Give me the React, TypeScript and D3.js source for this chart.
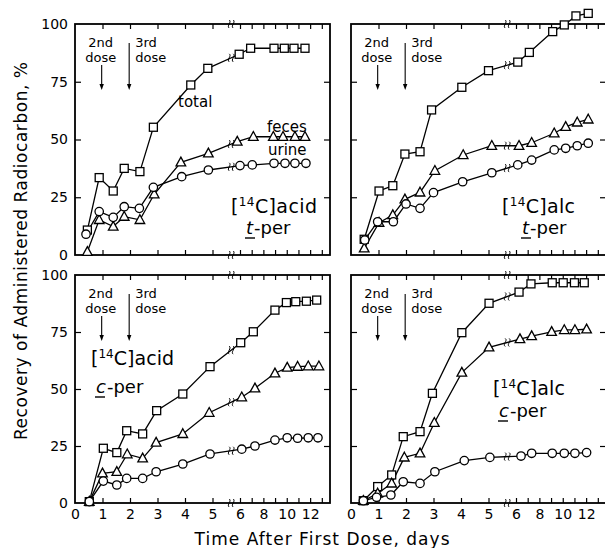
import React, { useEffect, useRef } from "react";
import * as d3 from "d3";

// x axis: linear 0-6 days, compressed after the break
const dayDomain = [0, 6, 13.7];
const breakDay = 5.68;
const xTickDays = [1, 2, 3, 4, 5, 6, 7, 8, 9, 10, 11, 12, 13];
const xTickLabels = [0, 1, 2, 3, 4, 5, 6, 8, 10, 12];
const yTickLabels = [0, 25, 50, 75, 100];
const doseDays = [0.97, 1.97];

// [14C]acid, t-per
const acidTTotalDays = [0.45, 0.88, 1.39, 1.79, 2.36, 2.85, 4.21, 4.83, 5.97, 6.91, 8.91, 9.79, 10.62, 11.56];
const acidTTotal = [10.8, 33.5, 27.7, 37.5, 36.1, 55.3, 73.6, 80.8, 86.9, 89.5, 89.5, 89.5, 89.5, 89.5];
const acidTFecesDays = [0.45, 0.88, 1.39, 1.79, 2.36, 2.88, 3.85, 4.85, 5.9, 7.14, 8.85, 9.68, 10.7, 11.56];
const acidTFeces = [1.4, 15.2, 12.3, 16.6, 15.2, 26.3, 40.1, 44.0, 49.1, 51.2, 51.2, 51.2, 51.2, 51.2];
const acidTUrineDays = [0.4, 0.88, 1.39, 1.79, 2.34, 2.85, 3.88, 4.85, 6.0, 7.05, 8.91, 9.85, 10.7, 11.64];
const acidTUrine = [9.0, 18.8, 16.3, 20.9, 20.2, 29.3, 33.9, 36.8, 38.7, 39.0, 39.7, 39.7, 39.7, 39.7];

// [14C]alc, t-per
const alcTTotalDays = [0.48, 1.02, 1.52, 1.96, 2.51, 2.93, 4.03, 5.0, 6.15, 7.14, 9.14, 10.13, 11.13, 12.18];
const alcTTotal = [6.8, 27.7, 30.0, 43.7, 44.7, 62.8, 72.6, 79.8, 83.5, 87.7, 96.7, 99.6, 103.5, 104.6];
const alcTFecesDays = [0.48, 1.02, 1.52, 1.96, 2.51, 3.05, 4.08, 5.12, 6.26, 7.34, 9.27, 10.25, 11.24, 12.18];
const alcTFeces = [2.9, 14.0, 17.3, 24.1, 27.1, 36.5, 43.3, 47.3, 47.3, 48.6, 52.7, 55.5, 57.4, 58.7];
const alcTUrineDays = [0.5, 0.97, 1.54, 2.0, 2.51, 3.0, 4.06, 5.12, 6.15, 7.34, 9.27, 10.25, 11.24, 12.18];
const alcTUrine = [6.5, 14.4, 14.4, 22.1, 20.2, 27.0, 31.7, 35.6, 39.0, 41.1, 45.5, 46.2, 47.3, 48.4];

// [14C]acid, c-per
const acidCTotalDays = [0.52, 1.03, 1.52, 1.88, 2.46, 2.97, 3.92, 4.91, 6.06, 7.14, 8.99, 9.97, 10.77, 11.68, 12.56];
const acidCTotal = [0.6, 24.0, 22.1, 31.7, 30.3, 40.5, 47.8, 59.8, 70.3, 75.1, 84.6, 87.9, 88.3, 88.5, 89.0];
const acidCFecesDays = [0.52, 1.0, 1.52, 1.9, 2.46, 2.95, 3.92, 4.88, 6.15, 7.28, 8.99, 10.04, 10.93, 11.84, 12.75];
const acidCFeces = [0.6, 13.0, 13.7, 21.4, 19.6, 26.5, 30.3, 39.6, 46.4, 50.3, 56.9, 59.4, 59.8, 60.0, 60.0];
const acidCUrineDays = [0.52, 1.03, 1.52, 1.88, 2.46, 2.95, 3.92, 4.91, 6.15, 7.28, 8.99, 10.04, 10.93, 11.84, 12.67];
const acidCUrine = [0.6, 9.6, 7.9, 10.8, 10.8, 13.7, 17.1, 21.5, 23.6, 25.0, 27.6, 28.6, 28.4, 28.6, 28.6];

// [14C]alc, c-per
const alcCTotalDays = [0.45, 0.97, 1.48, 1.9, 2.51, 2.96, 4.03, 5.02, 6.26, 7.28, 9.1, 10.04, 11.0, 11.84];
const alcCTotal = [1.0, 7.2, 12.3, 29.1, 31.3, 48.1, 74.7, 87.6, 92.5, 96.1, 96.6, 96.6, 96.6, 96.6];
const alcCFecesDays = [0.45, 0.97, 1.48, 1.94, 2.51, 3.03, 4.03, 5.02, 6.34, 7.34, 9.05, 10.13, 11.04, 12.04];
const alcCFeces = [1.0, 4.2, 8.6, 20.0, 21.8, 35.2, 57.2, 68.3, 71.9, 73.2, 75.1, 75.9, 75.9, 76.2];
const alcCUrineDays = [0.45, 0.93, 1.45, 1.9, 2.51, 3.05, 4.12, 5.05, 6.43, 7.34, 9.1, 10.13, 11.04, 12.04];
const alcCUrine = [1.0, 2.5, 3.5, 9.3, 8.6, 13.7, 18.6, 20.0, 20.6, 21.8, 21.8, 21.8, 21.8, 22.1];

const W = 605;
const H = 548;
const FONT = "DejaVu Sans";

const panels = [
  {
    left: 75, top: 24, h: 231, yLabels: true, xLabels: false,
    compound: "acid", isomer: "t",
    cx: 231, cy: 213, cLen: 86, ix: 246, iy: 234,
    series: [
      { days: acidTTotalDays, vals: acidTTotal, shape: "square" },
      { days: acidTFecesDays, vals: acidTFeces, shape: "triangle" },
      { days: acidTUrineDays, vals: acidTUrine, shape: "circle" },
    ],
  },
  {
    left: 351, top: 24, h: 231, yLabels: false, xLabels: false,
    compound: "alc", isomer: "t",
    cx: 502, cy: 213, cLen: 73, ix: 522, iy: 234,
    series: [
      { days: alcTTotalDays, vals: alcTTotal, shape: "square" },
      { days: alcTFecesDays, vals: alcTFeces, shape: "triangle" },
      { days: alcTUrineDays, vals: alcTUrine, shape: "circle" },
    ],
  },
  {
    left: 75, top: 275, h: 228, yLabels: true, xLabels: true,
    compound: "acid", isomer: "c",
    cx: 91, cy: 365, cLen: 83, ix: 96, iy: 393,
    series: [
      { days: acidCTotalDays, vals: acidCTotal, shape: "square" },
      { days: acidCFecesDays, vals: acidCFeces, shape: "triangle" },
      { days: acidCUrineDays, vals: acidCUrine, shape: "circle" },
    ],
  },
  {
    left: 351, top: 275, h: 228, yLabels: false, xLabels: true,
    compound: "alc", isomer: "c",
    cx: 493, cy: 395, cLen: 72, ix: 499, iy: 417,
    series: [
      { days: alcCTotalDays, vals: alcCTotal, shape: "square" },
      { days: alcCFecesDays, vals: alcCFeces, shape: "triangle" },
      { days: alcCUrineDays, vals: alcCUrine, shape: "circle" },
    ],
  },
];

// little "≈" break mark
function squiggle(x: number, y: number) {
  return [-2, 2]
    .map((o) => `M${x + o},${y - 4} C${x + o + 3},${y - 2} ${x + o - 3},${y + 2} ${x + o},${y + 4}`)
    .join(" ");
}

export default function App() {
  const svgRef = useRef<SVGSVGElement>(null);

  useEffect(() => {
    const svg = d3.select(svgRef.current);
    svg.selectAll("*").remove();
    svg.append("rect").attr("width", W).attr("height", H).attr("fill", "white");

    const panelW = 255;
    const x = d3.scaleLinear().domain(dayDomain).range([0, 165, panelW]);

    panels.forEach((p) => {
      const y = d3.scaleLinear().domain([0, 100]).range([p.h, 0]);
      const g = svg.append("g").attr("transform", `translate(${p.left},${p.top})`);

      // inward ticks on all four sides
      const tickStyle = (sel: any) => {
        sel.select(".domain").remove();
        sel.selectAll("line").attr("stroke", "#000").attr("stroke-width", 1.2);
      };
      g.append("g").attr("transform", `translate(0,${p.h})`)
        .call(d3.axisBottom(x).tickValues(xTickDays).tickSize(-5).tickFormat(() => ""))
        .call(tickStyle);
      g.append("g")
        .call(d3.axisTop(x).tickValues(xTickDays).tickSize(-5).tickFormat(() => ""))
        .call(tickStyle);
      g.append("g")
        .call(d3.axisLeft(y).tickValues([25, 50, 75]).tickSize(-6).tickFormat(() => ""))
        .call(tickStyle);
      g.append("g").attr("transform", `translate(${panelW},0)`)
        .call(d3.axisRight(y).tickValues([25, 50, 75]).tickSize(-6).tickFormat(() => ""))
        .call(tickStyle);

      // frame
      g.append("rect").attr("width", panelW).attr("height", p.h)
        .attr("fill", "none").attr("stroke", "#000").attr("stroke-width", 1.8);
      [0, p.h].forEach((yy) => {
        g.append("path").attr("d", squiggle(x(breakDay), yy))
          .attr("fill", "none").attr("stroke", "#000").attr("stroke-width", 1);
      });

      // tick labels
      if (p.xLabels) {
        const ax = g.append("g").attr("transform", `translate(0,${p.h})`)
          .call(d3.axisBottom(x).tickValues(xTickLabels).tickSize(0).tickPadding(6).tickFormat(d3.format("d")));
        ax.select(".domain").remove();
        ax.selectAll("text").attr("font-family", FONT).attr("font-size", 14).attr("fill", "#000");
      }
      if (p.yLabels) {
        const ay = g.append("g")
          .call(d3.axisLeft(y).tickValues(yTickLabels).tickSize(0).tickPadding(7).tickFormat(d3.format("d")));
        ay.select(".domain").remove();
        ay.selectAll("text").attr("font-family", FONT).attr("font-size", 14).attr("fill", "#000");
      }

      // dose arrows
      doseDays.forEach((dd, i) => {
        const ax = x(dd);
        const y0 = i === 0 ? 41 : 19;
        g.append("line").attr("x1", ax).attr("x2", ax).attr("y1", y0).attr("y2", 62)
          .attr("stroke", "#000").attr("stroke-width", 1.1);
        g.append("path").attr("d", `M${ax - 2.2},${60} L${ax + 2.2},${60} L${ax},${66} Z`).attr("fill", "#000");
        const t = g.append("text").attr("font-family", FONT).attr("font-size", 13).attr("fill", "#000")
          .attr("text-anchor", i === 0 ? "middle" : "start");
        const tx = i === 0 ? ax - 1 : ax + 6;
        t.append("tspan").attr("x", tx).attr("y", 23).text(i === 0 ? "2nd" : "3rd");
        t.append("tspan").attr("x", tx).attr("y", 38).text("dose");
      });

      // lines
      const line = d3.line<[number, number]>().x((d) => x(d[0])).y((d) => y(d[1]));
      p.series.forEach((s) => {
        const pts = s.days.map((d, i) => [d, s.vals[i]] as [number, number]);
        g.append("path").attr("d", line(pts)).attr("fill", "none")
          .attr("stroke", "#000").attr("stroke-width", 1.3);
        // break mark on the line
        const i = pts.findIndex((d, k) => k < pts.length - 1 && d[0] < breakDay && pts[k + 1][0] >= breakDay);
        if (i >= 0) {
          const a = pts[i], b = pts[i + 1];
          const bx = x(breakDay);
          const t = (bx - x(a[0])) / (x(b[0]) - x(a[0]));
          const by = y(a[1]) + t * (y(b[1]) - y(a[1]));
          g.append("path").attr("d", squiggle(bx, by)).attr("fill", "none")
            .attr("stroke", "#000").attr("stroke-width", 1);
        }
      });

      // markers
      p.series.forEach((s) => {
        s.days.forEach((d, i) => {
          const cx = x(d), cy = y(s.vals[i]);
          let m;
          if (s.shape === "square") {
            m = g.append("rect").attr("x", cx - 4).attr("y", cy - 4).attr("width", 8).attr("height", 8);
          } else if (s.shape === "circle") {
            m = g.append("circle").attr("cx", cx).attr("cy", cy).attr("r", 4.2);
          } else {
            m = g.append("path").attr("d", `M${cx},${cy - 5.2} L${cx + 4.8},${cy + 3.6} L${cx - 4.8},${cy + 3.6} Z`);
          }
          m.attr("fill", "white").attr("stroke", "#000").attr("stroke-width", 1.3);
        });
      });

      // compound label
      const c = svg.append("text").attr("x", p.cx).attr("y", p.cy)
        .attr("font-family", FONT).attr("font-size", 19).attr("fill", "#000")
        .attr("textLength", p.cLen).attr("lengthAdjust", "spacing");
      c.append("tspan").text("[");
      c.append("tspan").attr("font-size", 12).attr("dy", -7).text("14");
      c.append("tspan").attr("dy", 7).text(`C]${p.compound}`);
      const iso = svg.append("text").attr("x", p.ix).attr("y", p.iy)
        .attr("font-family", FONT).attr("font-size", 18).attr("fill", "#000");
      iso.append("tspan").attr("font-style", "italic").text(p.isomer);
      iso.append("tspan").attr("dx", 1).text("-per");
      svg.append("line").attr("x1", p.ix - 1).attr("x2", p.ix + 9)
        .attr("y1", p.iy + 4).attr("y2", p.iy + 4).attr("stroke", "#000").attr("stroke-width", 1.4);
    });

    // series names (top-left panel)
    const names = [["total", 178, 107], ["feces", 267, 132], ["urine", 268, 155]];
    names.forEach(([t, tx, ty]) => {
      svg.append("text").attr("x", tx).attr("y", ty).attr("font-family", FONT)
        .attr("font-size", 15).attr("fill", "#000").text(t as string);
    });

    // axis titles
    svg.append("text").attr("transform", "translate(27,251) rotate(-90)")
      .attr("text-anchor", "middle").attr("font-family", FONT).attr("font-size", 17)
      .attr("textLength", 378).attr("lengthAdjust", "spacing").attr("fill", "#000")
      .text("Recovery of Administered Radiocarbon, %");
    svg.append("text").attr("x", 322).attr("y", 545)
      .attr("text-anchor", "middle").attr("font-family", FONT).attr("font-size", 17)
      .attr("textLength", 255).attr("lengthAdjust", "spacing").attr("fill", "#000")
      .text("Time After First Dose, days");
  }, []);

  return <svg ref={svgRef} width={W} height={H} style={{ position: "absolute", left: 0, top: 0 }} />;
}
